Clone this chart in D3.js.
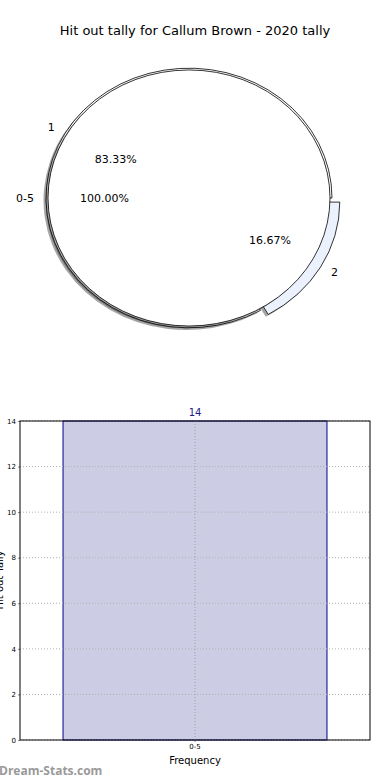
<!DOCTYPE html>
<meta charset="utf-8">
<style>

body {
  margin: 0;
  background: #fff;
}

svg text {
  font-family: "DejaVu Sans", sans-serif;
}

</style>
<body>
<script src="https://d3js.org/d3.v7.min.js"></script>
<script>

var width = 390,
    height = 780;

// inner ring: bucket, outer ring: tally values
var innerLabels = ["0-5"],
    innerValues = [6];

var outerLabels = ["1", "2"],
    outerValues = [5, 1];

var barCategories = ["0-5"],
    barValues = [14];

var yTicks = [0, 2, 4, 6, 8, 10, 12, 14];

var svg = d3.select("body").append("svg")
    .attr("width", width)
    .attr("height", height);

svg.append("text")
    .attr("x", 195)
    .attr("y", 35)
    .attr("text-anchor", "middle")
    .style("font-size", "13px")
    .text("Hit out tally for Callum Brown - 2020 tally");

// ---- pie (matplotlib style: starts at 3 o'clock, goes counterclockwise) ----

var cx = 189, cy = 198,
    r = 141, rOut = 143,
    sy = 128 / 141;

function mplPie(values) {
  var total = d3.sum(values), acc = 0;
  return values.map(function(v, i) {
    var t1 = acc / total * 2 * Math.PI;
    acc += v;
    var t2 = acc / total * 2 * Math.PI;
    return {index: i, value: v, frac: v / total,
            startAngle: Math.PI / 2 - t2, endAngle: Math.PI / 2 - t1,
            mid: (t1 + t2) / 2};
  });
}

var arcInner = d3.arc().innerRadius(0).outerRadius(r),
    arcOuter = d3.arc().innerRadius(0).outerRadius(rOut);

var pie = svg.append("g")
    .attr("transform", "translate(" + cx + "," + cy + ") scale(1," + sy + ")");

var outerData = mplPie(outerValues),
    innerData = mplPie(innerValues);

var explode = [0, 9];
var outerColors = ["#ffffff", "#ecf2fd"];

function offset(d, e) {
  return [e * Math.cos(d.mid), -e * Math.sin(d.mid)];
}

// shadows
pie.selectAll(".oshadow")
  .data(outerData)
  .enter().append("path")
    .attr("d", arcOuter)
    .attr("transform", function(d) {
      var o = offset(d, explode[d.index]);
      return "translate(" + (o[0] - 2.5) + "," + (o[1] + 2.5) + ")";
    })
    .attr("fill", "#000")
    .attr("fill-opacity", 0.35);

pie.selectAll(".outer")
  .data(outerData)
  .enter().append("path")
    .attr("d", arcOuter)
    .attr("transform", function(d) {
      var o = offset(d, explode[d.index]);
      return "translate(" + o[0] + "," + o[1] + ")";
    })
    .attr("fill", function(d) { return outerColors[d.index]; })
    .attr("stroke", "#000")
    .attr("stroke-width", 0.8)
    .attr("vector-effect", "non-scaling-stroke");

pie.selectAll(".ishadow")
  .data(innerData)
  .enter().append("path")
    .attr("d", arcInner)
    .attr("transform", "translate(-2.5,2.5)")
    .attr("fill", "#000")
    .attr("fill-opacity", 0.35);

pie.selectAll(".inner")
  .data(innerData)
  .enter().append("path")
    .attr("d", arcInner)
    .attr("fill", "#fff")
    .attr("stroke", "#000")
    .attr("stroke-width", 0.8)
    .attr("vector-effect", "non-scaling-stroke");

function labelAt(d, dist, e, txt, anchor) {
  var x = cx + (dist + e) * Math.cos(d.mid),
      y = cy - (dist + e) * Math.sin(d.mid) * sy;
  svg.append("text")
      .attr("x", x)
      .attr("y", y)
      .attr("dy", "0.35em")
      .attr("text-anchor", anchor)
      .style("font-size", "11px")
      .text(txt);
}

function side(d) { return Math.cos(d.mid) < 0 ? "end" : "start"; }

innerData.forEach(function(d, i) {
  labelAt(d, 1.1 * r, 0, innerLabels[i], side(d));
  labelAt(d, 0.6 * r, 0, (d.frac * 100).toFixed(2) + "%", "middle");
});

outerData.forEach(function(d, i) {
  labelAt(d, 1.1 * r, explode[i], outerLabels[i], side(d));
  labelAt(d, 0.6 * r, explode[i], (d.frac * 100).toFixed(2) + "%", "middle");
});

// ---- bar chart ----

var plotLeft = 20, plotRight = 370, plotTop = 421, plotBottom = 740;

var x = d3.scaleBand()
    .domain(barCategories)
    .range([plotLeft, plotRight])
    .paddingInner(0)
    .paddingOuter(0.163);

var y = d3.scaleLinear()
    .domain([0, 14])
    .range([plotBottom, plotTop]);

var grid = svg.append("g");

grid.selectAll(".hg")
  .data(yTicks)
  .enter().append("line")
    .attr("x1", plotLeft).attr("x2", plotRight)
    .attr("y1", function(d) { return y(d); })
    .attr("y2", function(d) { return y(d); })
    .attr("stroke", "#b0b0b0")
    .attr("stroke-dasharray", "1,2");

svg.selectAll(".bar")
  .data(barValues)
  .enter().append("rect")
    .attr("x", function(d, i) { return x(barCategories[i]); })
    .attr("y", function(d) { return y(d); })
    .attr("width", x.bandwidth())
    .attr("height", function(d) { return plotBottom - y(d); })
    .attr("fill", "#ccccE5")
    .attr("stroke", "#00008b")
    .attr("stroke-width", 1);

// gridlines show through the bar
grid.raise();

svg.selectAll(".vg")
  .data(barCategories)
  .enter().append("line")
    .attr("x1", function(d) { return x(d) + x.bandwidth() / 2; })
    .attr("x2", function(d) { return x(d) + x.bandwidth() / 2; })
    .attr("y1", plotTop).attr("y2", plotBottom)
    .attr("stroke", "#a0a0a0")
    .attr("stroke-dasharray", "1,2");

svg.selectAll(".val")
  .data(barValues)
  .enter().append("text")
    .attr("x", function(d, i) { return x(barCategories[i]) + x.bandwidth() / 2; })
    .attr("y", function(d) { return y(d) - 5; })
    .attr("text-anchor", "middle")
    .attr("fill", "#1c1c8c")
    .style("font-size", "10px")
    .text(function(d) { return d; });

var yAxis = svg.append("g")
    .attr("transform", "translate(" + plotLeft + ",0)")
    .call(d3.axisLeft(y).tickValues(yTicks).tickSize(2).tickPadding(2));

var xAxis = svg.append("g")
    .attr("transform", "translate(0," + plotBottom + ")")
    .call(d3.axisBottom(x).tickSize(2).tickPadding(2));

[yAxis, xAxis].forEach(function(a) {
  a.select(".domain").remove();
  a.selectAll("text").style("font-size", "7px").attr("fill", "#000");
  a.selectAll("line").attr("stroke", "#888");
});

svg.append("rect")
    .attr("x", plotLeft).attr("y", plotTop)
    .attr("width", plotRight - plotLeft).attr("height", plotBottom - plotTop)
    .attr("fill", "none")
    .attr("stroke", "#000")
    .attr("stroke-width", 1);

svg.append("text")
    .attr("x", 195)
    .attr("y", 764)
    .attr("text-anchor", "middle")
    .style("font-size", "10px")
    .text("Frequency");

svg.append("text")
    .attr("transform", "translate(3,580) rotate(-90)")
    .attr("text-anchor", "middle")
    .style("font-size", "10px")
    .text("Hit out Tally");

svg.append("text")
    .attr("x", -1)
    .attr("y", 775)
    .attr("fill", "#9a9a9a")
    .style("font-size", "12px")
    .style("font-weight", "bold")
    .style("font-family", "'Open Sans', sans-serif")
    .text("Dream-Stats.com");

</script>
